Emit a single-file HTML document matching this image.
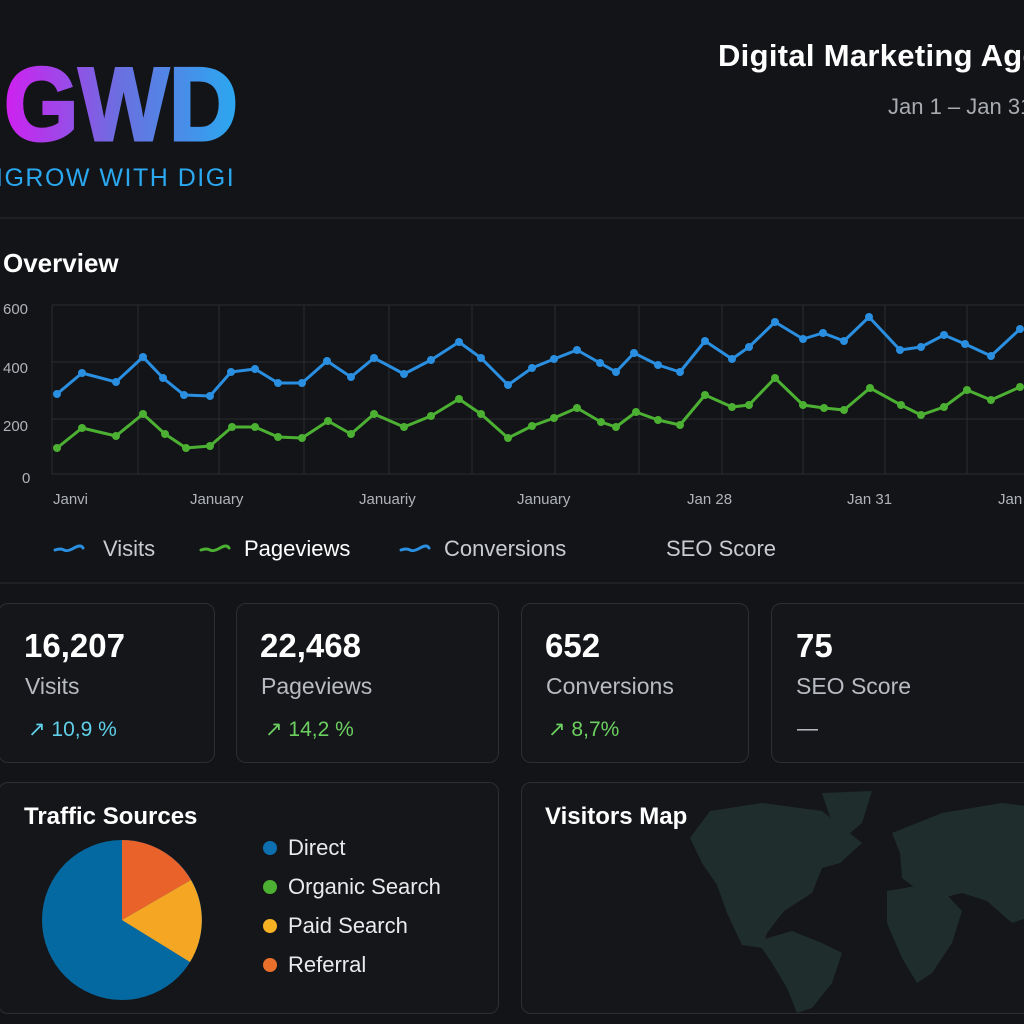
<!DOCTYPE html>
<html><head><meta charset="utf-8"><style>
html,body{margin:0;padding:0;background:#131418;width:1024px;height:1024px;overflow:hidden;font-family:"Liberation Sans",sans-serif;color:#fff}
#w{position:relative;width:1024px;height:1024px;overflow:hidden}
.a{position:absolute}
.card{position:absolute;border:1px solid #2c2e33;border-radius:10px;background:#15161a}
.big{font-size:33px;font-weight:bold;color:#fff}
.lab{font-size:23px;color:#b8bbc1}
</style></head><body><div id="w">
<svg class="a" style="left:0;top:0" width="1024" height="1024">
<defs><linearGradient id="g" x1="0" x2="1"><stop offset="0" stop-color="#d020f0"/><stop offset="0.5" stop-color="#6a70e0"/><stop offset="1" stop-color="#2aa8f0"/></linearGradient></defs>
<text x="4" y="140" font-family="Liberation Sans" font-weight="bold" font-size="104" fill="url(#g)" stroke="url(#g)" stroke-width="3" textLength="234" lengthAdjust="spacingAndGlyphs">GWD</text>
<text x="-4" y="186" font-family="Liberation Sans" font-size="25" fill="#2aa8f0" letter-spacing="1.5">IGROW WITH DIGI</text>
<line x1="0" y1="218" x2="1024" y2="218" stroke="#2a2c31"/>
<line x1="0" y1="583" x2="1024" y2="583" stroke="#2a2c31"/>
<g stroke="#2a2c31" stroke-width="1">
<line x1="52" y1="305" x2="1024" y2="305"/><line x1="52" y1="362" x2="1024" y2="362"/><line x1="52" y1="419" x2="1024" y2="419"/><line x1="52" y1="474" x2="1024" y2="474"/>
<line x1="52" y1="305" x2="52" y2="474"/>
<line x1="138" y1="305" x2="138" y2="474"/><line x1="219" y1="305" x2="219" y2="474"/><line x1="304" y1="305" x2="304" y2="474"/><line x1="389" y1="305" x2="389" y2="474"/><line x1="472" y1="305" x2="472" y2="474"/><line x1="555" y1="305" x2="555" y2="474"/><line x1="639" y1="305" x2="639" y2="474"/><line x1="722" y1="305" x2="722" y2="474"/><line x1="803" y1="305" x2="803" y2="474"/><line x1="885" y1="305" x2="885" y2="474"/><line x1="967" y1="305" x2="967" y2="474"/>
</g>
<g font-family="Liberation Sans" font-size="15" fill="#b0b3b8">
<text x="3" y="314">600</text><text x="3" y="373">400</text><text x="3" y="431">200</text><text x="22" y="483">0</text>
<text x="53" y="504">Janvi</text><text x="190" y="504">January</text><text x="359" y="504">Januariy</text><text x="517" y="504">January</text><text x="687" y="504">Jan 28</text><text x="847" y="504">Jan 31</text><text x="998" y="504">Jan</text>
</g>
<polyline fill="none" stroke="#2a8fe0" stroke-width="3" stroke-linejoin="round" points="57,394 82,373 116,382 143,357 163,378 184,395 210,396 231,372 255,369 278,383 302,383 327,361 351,377 374,358 404,374 431,360 459,342 481,358 508,385 532,368 554,359 577,350 600,363 616,372 634,353 658,365 680,372 705,341 732,359 749,347 775,322 803,339 823,333 844,341 869,317 900,350 921,347 944,335 965,344 991,356 1020,329"/>
<polyline fill="none" stroke="#4cb033" stroke-width="3" stroke-linejoin="round" points="57,448 82,428 116,436 143,414 165,434 186,448 210,446 232,427 255,427 278,437 302,438 328,421 351,434 374,414 404,427 431,416 459,399 481,414 508,438 532,426 554,418 577,408 601,422 616,427 636,412 658,420 680,425 705,395 732,407 749,405 775,378 803,405 824,408 844,410 870,388 901,405 921,415 944,407 967,390 991,400 1020,387"/>
<g fill="#2a8fe0"><circle cx="57" cy="394" r="4"/><circle cx="82" cy="373" r="4"/><circle cx="116" cy="382" r="4"/><circle cx="143" cy="357" r="4"/><circle cx="163" cy="378" r="4"/><circle cx="184" cy="395" r="4"/><circle cx="210" cy="396" r="4"/><circle cx="231" cy="372" r="4"/><circle cx="255" cy="369" r="4"/><circle cx="278" cy="383" r="4"/><circle cx="302" cy="383" r="4"/><circle cx="327" cy="361" r="4"/><circle cx="351" cy="377" r="4"/><circle cx="374" cy="358" r="4"/><circle cx="404" cy="374" r="4"/><circle cx="431" cy="360" r="4"/><circle cx="459" cy="342" r="4"/><circle cx="481" cy="358" r="4"/><circle cx="508" cy="385" r="4"/><circle cx="532" cy="368" r="4"/><circle cx="554" cy="359" r="4"/><circle cx="577" cy="350" r="4"/><circle cx="600" cy="363" r="4"/><circle cx="616" cy="372" r="4"/><circle cx="634" cy="353" r="4"/><circle cx="658" cy="365" r="4"/><circle cx="680" cy="372" r="4"/><circle cx="705" cy="341" r="4"/><circle cx="732" cy="359" r="4"/><circle cx="749" cy="347" r="4"/><circle cx="775" cy="322" r="4"/><circle cx="803" cy="339" r="4"/><circle cx="823" cy="333" r="4"/><circle cx="844" cy="341" r="4"/><circle cx="869" cy="317" r="4"/><circle cx="900" cy="350" r="4"/><circle cx="921" cy="347" r="4"/><circle cx="944" cy="335" r="4"/><circle cx="965" cy="344" r="4"/><circle cx="991" cy="356" r="4"/><circle cx="1020" cy="329" r="4"/></g>
<g fill="#4cb033"><circle cx="57" cy="448" r="4"/><circle cx="82" cy="428" r="4"/><circle cx="116" cy="436" r="4"/><circle cx="143" cy="414" r="4"/><circle cx="165" cy="434" r="4"/><circle cx="186" cy="448" r="4"/><circle cx="210" cy="446" r="4"/><circle cx="232" cy="427" r="4"/><circle cx="255" cy="427" r="4"/><circle cx="278" cy="437" r="4"/><circle cx="302" cy="438" r="4"/><circle cx="328" cy="421" r="4"/><circle cx="351" cy="434" r="4"/><circle cx="374" cy="414" r="4"/><circle cx="404" cy="427" r="4"/><circle cx="431" cy="416" r="4"/><circle cx="459" cy="399" r="4"/><circle cx="481" cy="414" r="4"/><circle cx="508" cy="438" r="4"/><circle cx="532" cy="426" r="4"/><circle cx="554" cy="418" r="4"/><circle cx="577" cy="408" r="4"/><circle cx="601" cy="422" r="4"/><circle cx="616" cy="427" r="4"/><circle cx="636" cy="412" r="4"/><circle cx="658" cy="420" r="4"/><circle cx="680" cy="425" r="4"/><circle cx="705" cy="395" r="4"/><circle cx="732" cy="407" r="4"/><circle cx="749" cy="405" r="4"/><circle cx="775" cy="378" r="4"/><circle cx="803" cy="405" r="4"/><circle cx="824" cy="408" r="4"/><circle cx="844" cy="410" r="4"/><circle cx="870" cy="388" r="4"/><circle cx="901" cy="405" r="4"/><circle cx="921" cy="415" r="4"/><circle cx="944" cy="407" r="4"/><circle cx="967" cy="390" r="4"/><circle cx="991" cy="400" r="4"/><circle cx="1020" cy="387" r="4"/></g>
<g fill="none" stroke-width="3" stroke-linecap="round">
<path d="M55,550 q6,-2 9,0 t10,-2 t9,0" stroke="#2a8fe0"/>
<path d="M201,550 q6,-2 9,0 t10,-2 t9,0" stroke="#4cb033"/>
<path d="M401,550 q6,-2 9,0 t10,-2 t9,0" stroke="#2a8fe0"/>
</g>
<g font-family="Liberation Sans" font-size="22" fill="#c8cbd0">
<text x="103" y="556">Visits</text><text x="244" y="556" fill="#fff">Pageviews</text><text x="444" y="556">Conversions</text><text x="666" y="556">SEO Score</text>
</g>
</svg>
<div class="a" style="left:718px;top:38px;font-size:31px;font-weight:600;white-space:nowrap;letter-spacing:0.3px">Digital Marketing Agency</div>
<div class="a" style="left:888px;top:94px;font-size:22px;color:#a8abb0;white-space:nowrap">Jan 1 – Jan 31</div>
<div class="a" style="left:3px;top:248px;font-size:26px;font-weight:600">Overview</div>

<div class="card" style="left:-2px;top:603px;width:215px;height:158px"></div>
<div class="card" style="left:236px;top:603px;width:261px;height:158px"></div>
<div class="card" style="left:521px;top:603px;width:226px;height:158px"></div>
<div class="card" style="left:771px;top:603px;width:270px;height:158px"></div>
<div class="a big" style="left:24px;top:627px;font-weight:600">16,207</div><div class="a lab" style="left:25px;top:673px">Visits</div>
<div class="a" style="left:28px;top:717px;font-size:21px;color:#5fd0e8">↗ 10,9 %</div>
<div class="a big" style="left:260px;top:627px;font-weight:600">22,468</div><div class="a lab" style="left:261px;top:673px">Pageviews</div>
<div class="a" style="left:265px;top:717px;font-size:21px;color:#6cd060">↗ 14,2 %</div>
<div class="a big" style="left:545px;top:627px;font-weight:600">652</div><div class="a lab" style="left:546px;top:673px">Conversions</div>
<div class="a" style="left:548px;top:717px;font-size:21px;color:#6cd060">↗ 8,7%</div>
<div class="a big" style="left:796px;top:627px;font-weight:600">75</div><div class="a lab" style="left:796px;top:673px">SEO Score</div>
<div class="a" style="left:797px;top:717px;font-size:21px;color:#c8cbd0">—</div>

<div class="card" style="left:-2px;top:782px;width:499px;height:230px"></div>
<div class="card" style="left:521px;top:782px;width:520px;height:230px;overflow:hidden">
<svg width="520" height="230" style="position:absolute;left:0;top:0">
<g fill="#1f2d2c">
<path d="M188,28 L240,20 L300,28 L340,60 L318,80 L300,85 L290,110 L262,128 L245,150 L240,165 L220,162 L205,130 L195,102 L180,80 L168,55 Z"/>
<path d="M300,10 L350,8 L340,40 L322,55 L310,40 Z"/>
<path d="M235,158 L270,148 L300,160 L320,170 L310,200 L290,225 L275,230 L265,205 L250,180 Z"/>
<path d="M370,50 L420,30 L480,20 L520,25 L520,130 L490,140 L465,118 L440,110 L420,115 L400,110 L380,95 L378,70 Z"/>
<path d="M365,108 L400,102 L425,112 L440,128 L430,160 L410,190 L395,200 L380,175 L365,140 Z"/>
</g></svg></div>
<div class="a" style="left:24px;top:803px;font-size:24px;font-weight:600">Traffic Sources</div>
<div class="a" style="left:545px;top:803px;font-size:24px;font-weight:600">Visitors Map</div>
<svg class="a" style="left:0;top:830px" width="500" height="180">
<circle cx="122" cy="90" r="80" fill="#0569a1"/>
<path d="M122,90 L122,10 A80,80 0 0 1 191,50 Z" fill="#e8622a"/>
<path d="M122,90 L191,50 A80,80 0 0 1 190,132 Z" fill="#f5a623"/>
<circle cx="270" cy="18" r="7" fill="#0c6fb0"/><circle cx="270" cy="57" r="7" fill="#4cb033"/><circle cx="270" cy="96" r="7" fill="#f5b323"/><circle cx="270" cy="135" r="7" fill="#e8702a"/>
<g font-family="Liberation Sans" font-size="22" fill="#e8eaee"><text x="288" y="25">Direct</text><text x="288" y="64">Organic Search</text><text x="288" y="103">Paid Search</text><text x="288" y="142">Referral</text></g>
</svg>
</div></body></html>
